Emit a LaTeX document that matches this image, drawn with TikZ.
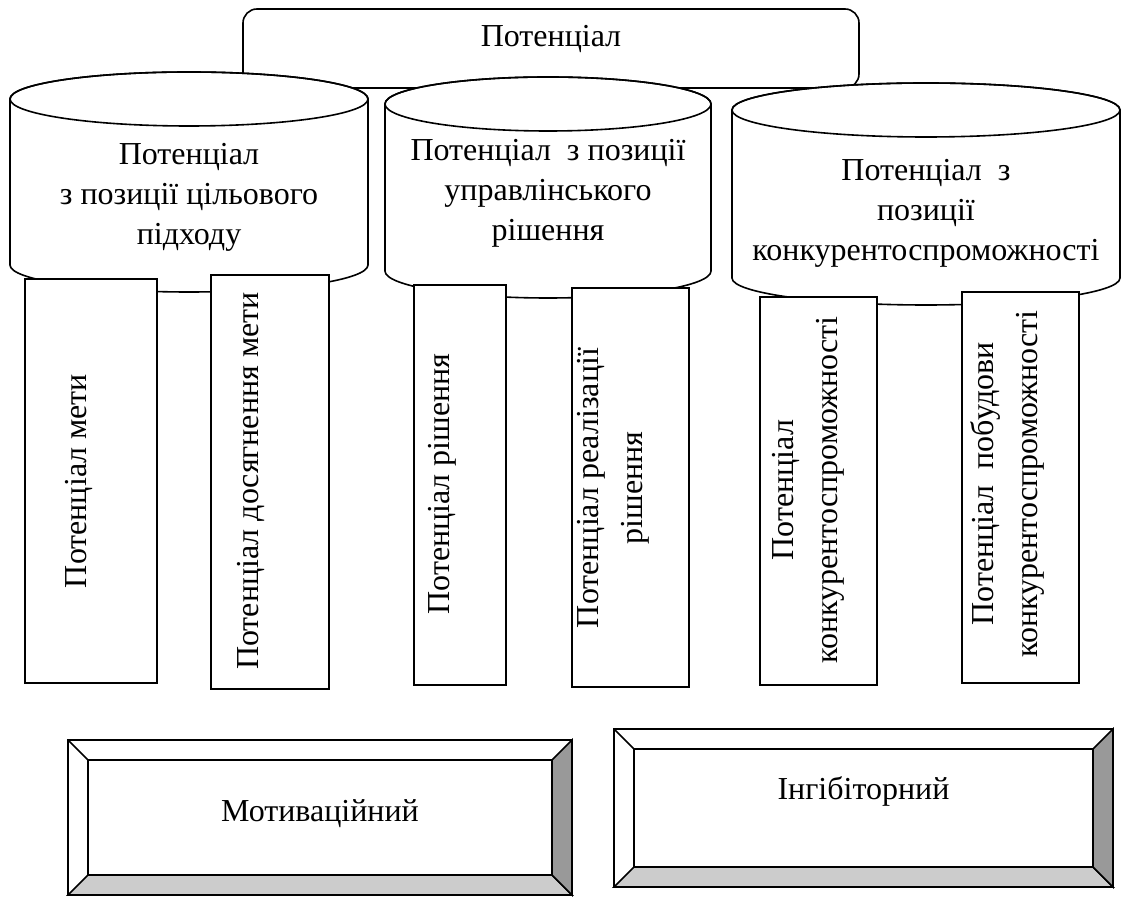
\documentclass[tikz,border=0pt]{standalone}
\usepackage{fontspec}
\setmainfont{Liberation Serif}
\tikzset{
  frame/.style={draw, line width=0.8pt},
  lbl/.style={font=\fontsize{16}{20}\selectfont, align=center, inner sep=0pt},
  collbl/.style={lbl, rotate=90, font=\fontsize{16}{22}\selectfont},
}
\begin{document}
\begin{tikzpicture}[x=0.5pt,y=-0.5pt]
\useasboundingbox (0,0) rectangle (1121,897);
% top box
\draw[frame, rounded corners=7pt, fill=white] (243,9) rectangle (859,88);
\node[lbl] (top) at (551,39) {Потенціал};
% cylinders
\foreach \cx/\rx/\cy/\by/\ty/\txt [count=\i] in {
    189/179/99/265/197/{Потенціал\\з позиції цільового\\підходу},
    548/163/104/271/193/{Потенціал~ з позиції\\управлінського\\рішення},
    926/194/110/278/213/{Потенціал~ з\\позиції\\конкурентоспроможності}}
  {\draw[frame, fill=white] (\cx-\rx,\cy) -- (\cx-\rx,\by)
      arc[start angle=180, end angle=0, x radius=\rx, y radius=27]
      -- (\cx+\rx,\cy) arc[start angle=0, end angle=-180, x radius=\rx, y radius=27] -- cycle;
   \draw[frame] (\cx,\cy) ellipse[x radius=\rx, y radius=27];
   \node[lbl] (cyl\i) at (\cx,\ty) {\txt};}
% columns
\foreach \xa/\ya/\xb/\yb/\tx/\ty/\txt [count=\i] in {
    25/279/157/683/79/481/{Потенціал мети},
    211/275/329/689/251/481/{Потенціал досягнення мети},
    414/285/506/685/442/484/{Потенціал рішення},
    572/288/689/687/613/488/{Потенціал реалізації\\рішення},
    760/297/877/685/808/490/{Потенціал\\конкурентоспроможності},
    962/292/1079/683/1007/484/{Потенціал~ побудови\\конкурентоспроможності}}
  {\draw[frame, fill=white] (\xa,\ya) rectangle (\xb,\yb);
   \node[collbl] (col\i) at (\tx,\ty) {\txt};}
% bevel boxes
\foreach \xa/\ya/\xb/\yb/\ty/\txt [count=\i] in {
    68/740/572/895/814/Мотиваційний,
    614/729/1113/887/791/Інгібіторний}
  {\draw[frame, fill=white] (\xa,\ya) rectangle (\xb,\yb);
   \draw[frame, fill=gray!40] (\xa,\yb) -- (\xa+20,\yb-20) -- (\xb-20,\yb-20) -- (\xb,\yb) -- cycle;
   \draw[frame, fill=gray!80] (\xb,\ya) -- (\xb-20,\ya+20) -- (\xb-20,\yb-20) -- (\xb,\yb) -- cycle;
   \draw[frame] (\xa,\ya) -- (\xa+20,\ya+20);
   \draw[frame] (\xa+20,\ya+20) rectangle (\xb-20,\yb-20);
   \node[lbl] (kind\i) at ({(\xa+\xb)/2},\ty) {\txt};}
\end{tikzpicture}
\end{document}
